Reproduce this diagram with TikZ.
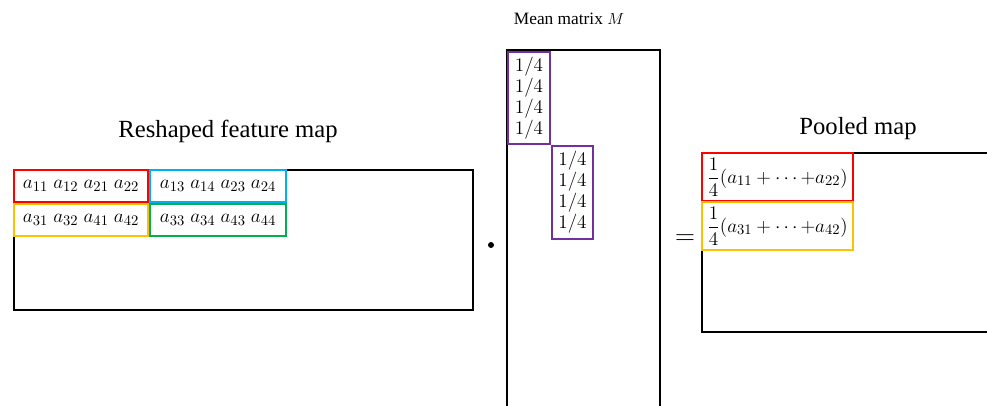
\documentclass[tikz,border=0pt]{standalone}
\usepackage{amsmath}
\usepackage{fontspec}
\setmainfont{Liberation Serif}
\usetikzlibrary{positioning}

\definecolor{boxred}{RGB}{255,0,0}
\definecolor{boxblue}{RGB}{0,176,240}
\definecolor{boxyellow}{RGB}{255,192,0}
\definecolor{boxgreen}{RGB}{0,176,80}
\definecolor{boxpurple}{RGB}{112,48,160}

\begin{document}
\begin{tikzpicture}[
	x=0.75pt, y=-0.75pt,
	every node/.style={inner sep=0pt, outer sep=0pt},
	frame/.style={rectangle, draw, line width=1.4pt, anchor=north west},
	part/.style={rectangle, draw, line width=1.3pt, anchor=north west, minimum height=24pt, font=\fontsize{15.5}{18}\selectfont},
	pooled/.style={rectangle, draw, line width=1.3pt, anchor=north west, minimum height=36pt, inner xsep=4pt, text width=105.25pt, align=left, font=\fontsize{15}{17}\selectfont},
	col/.style={rectangle, draw=boxpurple, line width=1.1pt, anchor=north west, align=center, font=\fontsize{14}{15.75}\selectfont},
	caption/.style={anchor=base, font=\fontsize{18.5}{22}\selectfont}
]
\useasboundingbox (0,0) rectangle (987,405);
\clip (0,0) rectangle (987,405);

% reshaped feature map
\node[caption] (maptitle) at (228,137) {Reshaped feature map};
\node[frame, minimum width=344.25pt, minimum height=105pt] (featmap) at (14,170) {};
\node[part, draw=boxred, minimum width=100.5pt] (q11) at (14,170) {$a_{11}$ $a_{12}$ $a_{21}$ $a_{22}$};
\node[part, draw=boxblue, minimum width=102pt] (q12) at (150,170) {$a_{13}$ $a_{14}$ $a_{23}$ $a_{24}$};
\node[part, draw=boxyellow, minimum width=100.5pt] (q21) at (14,204) {$a_{31}$ $a_{32}$ $a_{41}$ $a_{42}$};
\node[part, draw=boxgreen, minimum width=102pt] (q22) at (150,204) {$a_{33}$ $a_{34}$ $a_{43}$ $a_{44}$};

\node[circle, fill, minimum size=4.5pt] (dot) at (491,245) {};

% mean matrix
\node[anchor=base, font=\fontsize{13}{15}\selectfont] (meantitle) at (569,24) {Mean matrix $M$};
\node[frame, minimum width=114.75pt, minimum height=285pt] (mean) at (507,50) {};
\node[col, minimum width=31.5pt, minimum height=69pt] (colA) at (508,52) {$1/4$\\$1/4$\\$1/4$\\$1/4$};
\node[col, minimum width=30.75pt, minimum height=69.75pt] (colB) at (552,146) {$1/4$\\$1/4$\\$1/4$\\$1/4$};

\node[font=\fontsize{20}{22}\selectfont] (eq) at (685,240) {$=$};

% pooled map
\node[caption] (pooltitle) at (858,134) {Pooled map};
\node[frame, minimum width=250pt, minimum height=134.25pt] (pool) at (702,153) {};
\node[pooled, draw=boxred] (p1) at (702,153) {$\dfrac{1}{4}(a_{11}+\cdots\mathord{+}a_{22})$};
\node[pooled, draw=boxyellow] (p2) at (702,202) {$\dfrac{1}{4}(a_{31}+\cdots\mathord{+}a_{42})$};
\end{tikzpicture}
\end{document}
